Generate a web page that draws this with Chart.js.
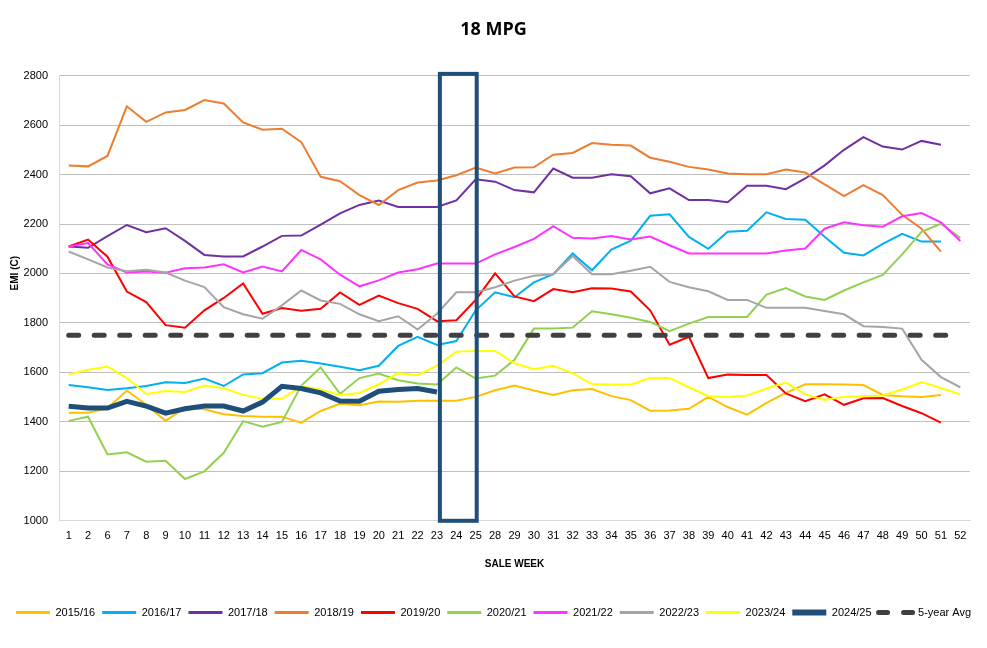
<!DOCTYPE html>
<html>
<head>
  <meta charset="utf-8" />
  <title>18 MPG</title>
  <script src="https://cdn.jsdelivr.net/npm/chart.js@4.4.1/dist/chart.umd.min.js"></script>
  <style>
    body { margin: 0; background: #fff; }
  </style>
</head>
<body>
  <canvas id="mpgChart" width="987" height="648"></canvas>
  <script>
    // sale weeks shown on the axis (3-5 and 26-27 are not sale weeks)
    var weeks = [1, 2, 6, 7, 8, 9, 10, 11, 12, 13, 14, 15, 16, 17, 18, 19, 20, 21, 22, 23, 24, 25,
      28, 29, 30, 31, 32, 33, 34, 35, 36, 37, 38, 39, 40, 41, 42, 43, 44, 45, 46, 47, 48, 49, 50, 51, 52];

    var s2015 = [1437, 1437, 1455, 1527, 1469, 1404, 1457, 1451, 1431, 1424, 1421, 1421, 1397, 1444, 1473, 1467, 1482, 1481, 1485, 1485, 1485, 1501,
      1528, 1547, 1527, 1509, 1528, 1533, 1504, 1488, 1445, 1446, 1453, 1501, 1460, 1429, 1477, 1517, 1552, 1552, 1551, 1549, 1509, 1504, 1501, 1509, null];
    var s2016 = [1549, 1540, 1529, 1536, 1545, 1560, 1557, 1575, 1545, 1592, 1597, 1640, 1647, 1636, 1623, 1609, 1627, 1707, 1744, 1711, 1727, 1851,
      1924, 1904, 1964, 1997, 2081, 2013, 2097, 2133, 2233, 2239, 2148, 2100, 2169, 2173, 2247, 2220, 2217, 2148, 2084, 2073, 2120, 2160, 2129, 2129, null];
    var s2017 = [2109, 2104, 2151, 2196, 2167, 2183, 2132, 2075, 2069, 2069, 2109, 2152, 2153, 2197, 2243, 2277, 2295, 2269, 2269, 2269, 2295, 2381,
      2371, 2337, 2328, 2424, 2387, 2387, 2401, 2393, 2324, 2344, 2297, 2297, 2288, 2355, 2355, 2341, 2384, 2437, 2500, 2551, 2513, 2501, 2536, 2520, null];
    var s2018 = [2437, 2433, 2475, 2676, 2613, 2651, 2661, 2701, 2687, 2611, 2581, 2585, 2531, 2391, 2373, 2317, 2277, 2337, 2368, 2376, 2397, 2428,
      2404, 2428, 2429, 2480, 2487, 2527, 2520, 2517, 2468, 2452, 2431, 2420, 2404, 2401, 2401, 2420, 2408, 2360, 2313, 2357, 2317, 2237, 2181, 2088, null];
    var s2019 = [2109, 2137, 2068, 1927, 1884, 1791, 1781, 1851, 1901, 1960, 1837, 1860, 1849, 1857, 1923, 1873, 1911, 1880, 1857, 1807, 1811, 1893,
      2000, 1907, 1888, 1937, 1924, 1940, 1939, 1927, 1851, 1712, 1744, 1577, 1591, 1589, 1589, 1515, 1484, 1511, 1469, 1495, 1496, 1464, 1435, 1397, null];
    var s2020 = [1404, 1421, 1268, 1277, 1239, 1243, 1169, 1200, 1275, 1403, 1380, 1400, 1547, 1620, 1513, 1577, 1595, 1568, 1555, 1551, 1620, 1575,
      1587, 1651, 1777, 1777, 1781, 1847, 1835, 1821, 1804, 1767, 1797, 1824, 1824, 1824, 1915, 1941, 1907, 1893, 1931, 1964, 1994, 2077, 2168, 2201, 2144];
    var s2021 = [2109, 2123, 2037, 2004, 2008, 2003, 2021, 2024, 2037, 2004, 2028, 2008, 2095, 2057, 1995, 1948, 1972, 2004, 2017, 2040, 2040, 2040,
      2077, 2107, 2140, 2191, 2144, 2141, 2151, 2137, 2149, 2114, 2081, 2081, 2081, 2081, 2081, 2093, 2101, 2181, 2207, 2195, 2189, 2231, 2244, 2207, 2131];
    var s2022 = [2089, 2057, 2024, 2009, 2015, 2004, 1971, 1945, 1864, 1835, 1817, 1871, 1931, 1891, 1877, 1835, 1807, 1827, 1773, 1837, 1924, 1924,
      1944, 1971, 1991, 1997, 2071, 1997, 1997, 2011, 2027, 1966, 1944, 1928, 1893, 1893, 1861, 1861, 1861, 1848, 1835, 1787, 1784, 1777, 1651, 1581, 1540];
    var s2023 = [1592, 1611, 1624, 1577, 1513, 1525, 1521, 1547, 1536, 1509, 1493, 1493, 1544, 1531, 1509, 1517, 1552, 1597, 1589, 1627, 1684, 1687,
      1687, 1637, 1613, 1627, 1597, 1553, 1551, 1551, 1577, 1577, 1540, 1504, 1501, 1507, 1535, 1559, 1511, 1489, 1501, 1504, 1507, 1531, 1561, 1537, 1511];
    var s2024 = [1463, 1456, 1456, 1483, 1464, 1435, 1453, 1464, 1464, 1444, 1480, 1544, 1535, 1517, 1484, 1483, 1524, 1531, 1535, 1521];
    var avg5 = [1750, 1750, 1750, 1750, 1750, 1750, 1750, 1750, 1750, 1750, 1750, 1750, 1750, 1750, 1750, 1750, 1750, 1750, 1750, 1750, 1750, 1750,
      1750, 1750, 1750, 1750, 1750, 1750, 1750, 1750, 1750, 1750, 1750, 1750, 1750, 1750, 1750, 1750, 1750, 1750, 1750, 1750, 1750, 1750, 1750, 1750, 1750];

    // weeks boxed on the chart (current sale)
    var boxFrom = 19.15, boxTo = 21.05;

    function line(label, data, color, width) {
      return {
        label: label,
        data: data,
        borderColor: color,
        backgroundColor: color,
        borderWidth: width || 2,
        pointRadius: 0,
        pointHoverRadius: 0,
        tension: 0,
        fill: false,
        spanGaps: false
      };
    }

    var datasets = [
      line("2015/16", s2015, "#FFC000"),
      line("2016/17", s2016, "#00B0F0"),
      line("2017/18", s2017, "#7030A0"),
      line("2018/19", s2018, "#ED7D31"),
      line("2019/20", s2019, "#FF0000"),
      line("2020/21", s2020, "#92D050"),
      line("2021/22", s2021, "#FF33FF"),
      line("2022/23", s2022, "#A5A5A5"),
      line("2023/24", s2023, "#FFFF00"),
      line("2024/25", s2024, "#1F4E79", 5),
      line("5-year Avg", avg5, "#404040", 5)
    ];
    datasets[10].borderDash = [10, 15.5];
    datasets[10].borderCapStyle = "round";
    // later seasons on top, like the spreadsheet
    datasets.forEach(function (d, i) { d.order = datasets.length - i; });

    var boxPlugin = {
      id: "weekBox",
      afterDatasetsDraw: function (chart) {
        var x = chart.scales.x, y = chart.scales.y, ctx = chart.ctx;
        var l = x.getPixelForValue(boxFrom), r = x.getPixelForValue(boxTo);
        var t = y.getPixelForValue(2807), b = y.getPixelForValue(1000);
        ctx.save();
        ctx.strokeStyle = "#1F4E79";
        ctx.lineWidth = 4;
        ctx.strokeRect(l, t, r - l, b - t);
        ctx.restore();
      }
    };

    Chart.defaults.font.family = "'Liberation Sans', Arial, sans-serif";
    Chart.defaults.color = "#000";

    var ctx = document.getElementById("mpgChart").getContext("2d");
    var chart = new Chart(ctx, {
      type: "line",
      data: { labels: weeks, datasets: datasets },
      plugins: [boxPlugin],
      options: {
        responsive: false,
        animation: false,
        layout: { padding: { left: 0, right: 0, top: 0, bottom: 20 } },
        plugins: {
          tooltip: { enabled: false },
          title: {
            display: true,
            text: "18 MPG",
            color: "#000",
            font: { family: "'Open Sans', sans-serif", size: 18, weight: "bold" },
            padding: { top: 19, bottom: 35 }
          },
          legend: {
            position: "bottom",
            labels: {
              usePointStyle: true,
              pointStyleWidth: 34,
              padding: 7,
              font: { size: 11 },
              color: "#000",
              sort: function (a, b) { return a.datasetIndex - b.datasetIndex; },
              generateLabels: function (c) {
                var items = Chart.defaults.plugins.legend.labels.generateLabels(c);
                items.forEach(function (it) {
                  var ds = c.data.datasets[it.datasetIndex];
                  it.pointStyle = "line";
                  it.strokeStyle = ds.borderColor;
                  it.lineWidth = ds.borderWidth > 2 ? 6 : 3;
                  if (ds.borderDash) {
                    it.lineDash = [9, 16];
                    it.lineCap = "round";
                    it.lineWidth = 5;
                  }
                });
                return items;
              }
            }
          }
        },
        scales: {
          x: {
            offset: true,
            grid: { display: false, drawTicks: false, offset: true },
            border: { display: true, color: "#D9D9D9" },
            ticks: { autoSkip: false, maxRotation: 0, padding: 9, font: { size: 11 } },
            title: {
              display: true,
              text: "SALE WEEK",
              font: { size: 10, weight: "bold" },
              padding: { top: 6, bottom: 30 }
            }
          },
          y: {
            min: 1000,
            max: 2800,
            afterFit: function (scale) { scale.width = 59; },
            grid: {
              drawTicks: false,
              color: function (c) { return c.tick && c.tick.value === 1000 ? "#D9D9D9" : "#BFBFBF"; }
            },
            border: { display: true, color: "#D9D9D9" },
            ticks: {
              stepSize: 200,
              padding: 11,
              font: { size: 11 },
              callback: function (v) { return String(v); }
            },
            title: {
              display: true,
              // leading spaces lift the label a little, as in the original
              text: "                  EMI (C)",
              font: { size: 10, weight: "bold" },
              padding: { top: 9, bottom: 0 }
            }
          },
          yRight: {
            position: "right",
            display: true,
            afterFit: function (scale) { scale.width = 17; },
            grid: { display: false, drawTicks: false },
            border: { display: false },
            ticks: { display: false }
          }
        }
      }
    });
  </script>
</body>
</html>
